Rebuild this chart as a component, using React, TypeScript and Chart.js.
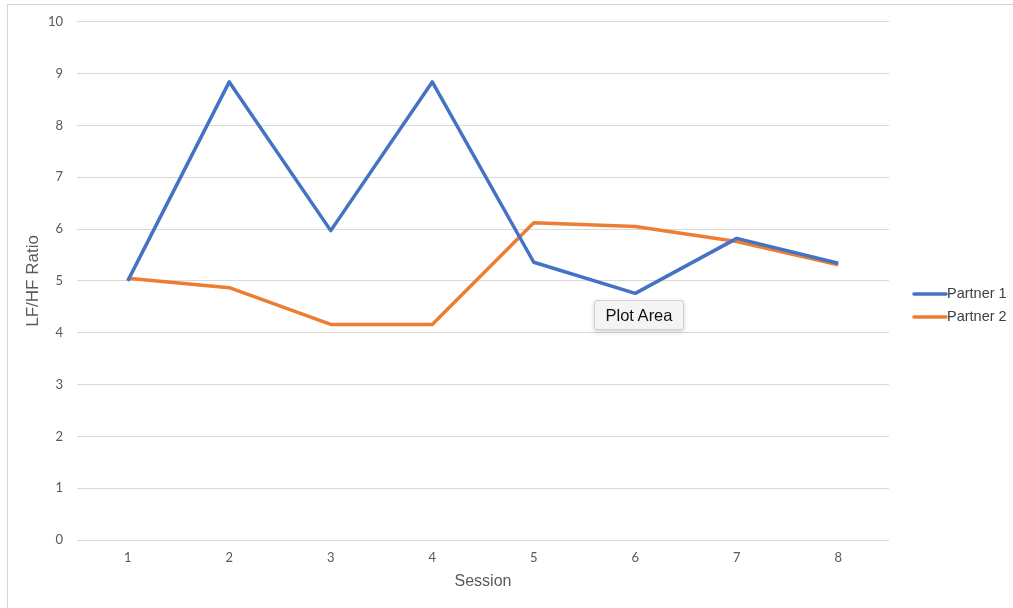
import React, { useEffect, useRef } from "react";
import { Chart, registerables } from "chart.js";

Chart.register(...registerables);

const sessions = ["1", "2", "3", "4", "5", "6", "7", "8"];
const partner1 = [5.0, 8.84, 5.97, 8.84, 5.36, 4.76, 5.82, 5.34];
const partner2 = [5.05, 4.87, 4.16, 4.16, 6.12, 6.05, 5.76, 5.31];
const seriesNames = ["Partner 1", "Partner 2"];
const seriesColors = ["#4472C4", "#ED7D31"];
const yTitle = "LF/HF Ratio";
const xTitle = "Session";

const legendPlugin = {
  id: "sideLegend",
  afterDraw(chart: any) {
    const { ctx, chartArea } = chart;
    const x0 = chartArea.right + 25;
    const y0 = 294;
    ctx.save();
    seriesNames.forEach((name, i) => {
      const y = y0 + i * 23;
      ctx.strokeStyle = seriesColors[i];
      ctx.lineWidth = 3.5;
      ctx.lineCap = "round";
      ctx.beginPath();
      ctx.moveTo(x0, y);
      ctx.lineTo(x0 + 32, y);
      ctx.stroke();
      ctx.fillStyle = "#404040";
      ctx.font = "14.5px 'Liberation Sans', Arial, sans-serif";
      ctx.textBaseline = "middle";
      ctx.textAlign = "left";
      ctx.fillText(name, x0 + 33, y);
    });
    ctx.restore();
  },
};

export default function App() {
  const ref = useRef<HTMLCanvasElement | null>(null);
  useEffect(() => {
    if (!ref.current) return;
    const chart = new Chart(ref.current, {
      type: "line",
      data: {
        labels: sessions,
        datasets: [
          {
            label: seriesNames[0],
            data: partner1,
            borderColor: seriesColors[0],
            backgroundColor: seriesColors[0],
            borderWidth: 3.5,
            pointRadius: 0,
            tension: 0,
            borderJoinStyle: "round",
          },
          {
            label: seriesNames[1],
            data: partner2,
            borderColor: seriesColors[1],
            backgroundColor: seriesColors[1],
            borderWidth: 3.5,
            pointRadius: 0,
            tension: 0,
            borderJoinStyle: "round",
          },
        ],
      },
      options: {
        animation: false,
        responsive: false,
        maintainAspectRatio: false,
        layout: { padding: { left: 0, top: 15, right: 124, bottom: 0 } },
        plugins: {
          legend: { display: false },
          tooltip: { enabled: false },
        },
        scales: {
          x: {
            type: "category",
            offset: true,
            grid: { display: false, drawTicks: false },
            border: { display: false },
            ticks: {
              padding: 10,
              color: "#595959",
              font: { size: 13, family: "Lato, 'Liberation Sans', sans-serif" },
            },
            title: {
              display: true,
              text: xTitle,
              color: "#595959",
              font: { size: 16, family: "'Liberation Sans', Arial, sans-serif" },
              padding: { top: 0, bottom: 17 },
            },
            afterFit(scale: any) {
              scale.height = 68;
            },
          },
          y: {
            min: 0,
            max: 10,
            grid: { color: "#d9d9d9", lineWidth: 1, drawTicks: false },
            border: { display: false },
            ticks: {
              stepSize: 1,
              padding: 14,
              color: "#595959",
              font: { size: 13, family: "Lato, 'Liberation Sans', sans-serif" },
            },
            title: {
              display: true,
              text: yTitle,
              color: "#595959",
              font: { size: 17, family: "'Liberation Sans', Arial, sans-serif" },
              padding: { top: 23, bottom: 0 },
            },
            afterFit(scale: any) {
              scale.width = 77;
            },
          },
        },
      },
      plugins: [legendPlugin],
    });
    return () => chart.destroy();
  }, []);

  return (
    <div style={{ position: "fixed", left: 0, top: 0, width: 1013, height: 608, background: "#ffffff", overflow: "hidden" }}>
      <div
        style={{
          position: "absolute",
          left: 7,
          top: 4,
          width: 1020,
          height: 640,
          border: "1.5px solid #d4d4d4",
          boxSizing: "border-box",
        }}
      />
      <canvas ref={ref} width={1013} height={608} style={{ position: "absolute", left: 0, top: 0 }} />
      <div
        style={{
          position: "absolute",
          left: 594,
          top: 300,
          width: 90,
          height: 30,
          background: "#f4f4f4",
          border: "1px solid #d0d0d0",
          borderRadius: 3,
          boxShadow: "0 2px 5px rgba(0,0,0,0.18)",
          boxSizing: "border-box",
          fontFamily: "'Liberation Sans', Arial, sans-serif",
          fontSize: 16.5,
          color: "#111111",
          display: "flex",
          alignItems: "center",
          justifyContent: "center",
        }}
      >
        Plot Area
      </div>
    </div>
  );
}
